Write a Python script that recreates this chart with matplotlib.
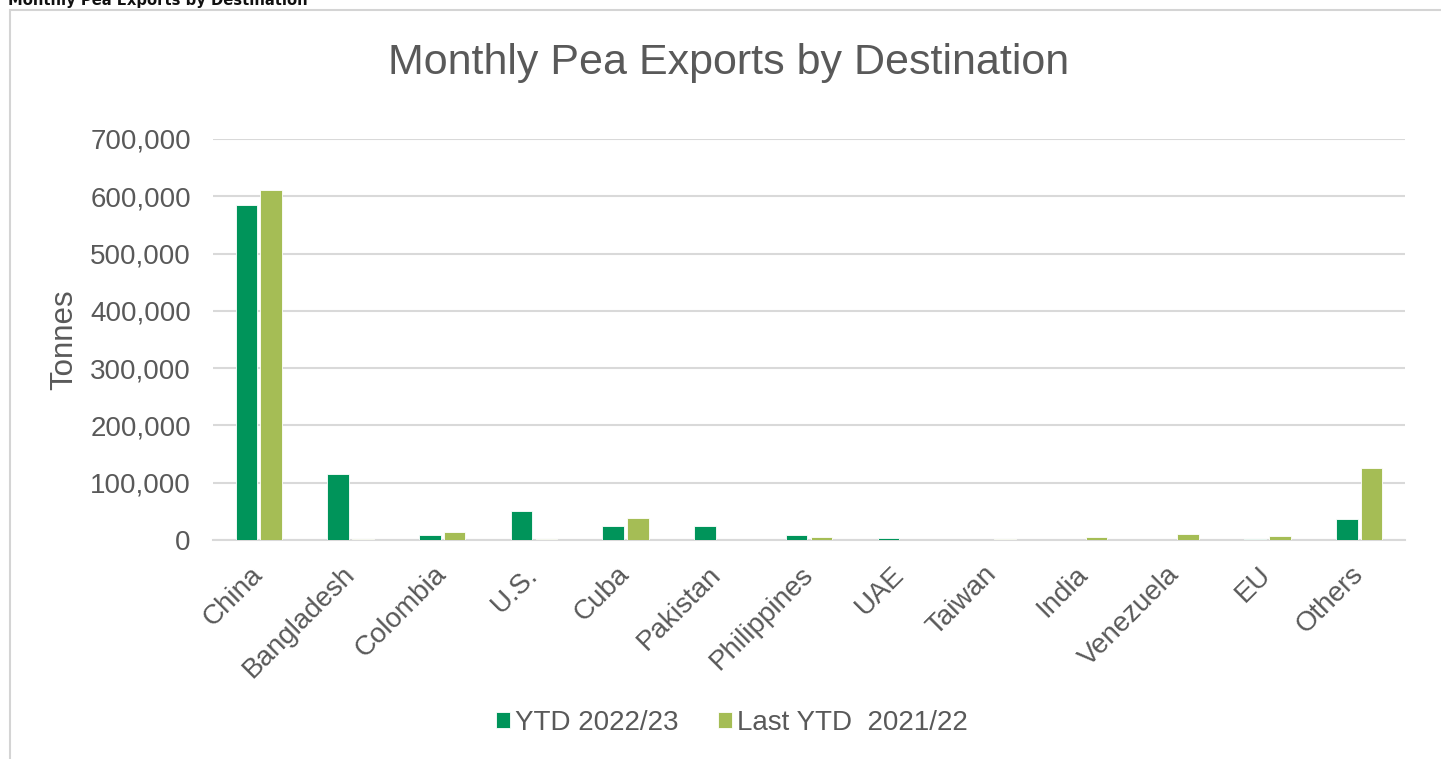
import matplotlib.pyplot as plt
import matplotlib.patches as patches
from matplotlib.ticker import FuncFormatter
import numpy as np

# Categories and tonnes
destinations = ["China", "Bangladesh", "Colombia", "U.S.", "Cuba", "Pakistan",
                "Philippines", "UAE", "Taiwan", "India", "Venezuela", "EU", "Others"]
ytd_2223 = [585000, 115000, 9000, 50000, 25000, 25000, 9000, 3000, 0, 0, 0, 2000, 37000]
last_ytd_2122 = [611000, 1000, 14000, 2000, 39000, 0, 6000, 0, 2000, 5000, 10000, 7000, 126000]

DARK = "#00945A"
LIGHT = "#A5BD55"
TEXT = "#595959"
FONT = "Liberation Sans"

fig = plt.figure(figsize=(14.41, 7.59), dpi=100)

# Outer panel border
frame = patches.Rectangle((10 / 1441, -0.05), 1.1, 1 - 10 / 759 + 0.05,
                          transform=fig.transFigure, fill=False,
                          edgecolor="#d4d4d4", linewidth=1.5)
fig.patches.append(frame)

# Page heading, clipped at the top like the source screenshot
fig.text(8 / 1441, 1 - 5 / 759, "Monthly Pea Exports by Destination",
         fontsize=11.8, fontweight="bold", fontstretch="condensed",
         color="#111111", va="baseline", ha="left", family="DejaVu Sans")

ax = fig.add_axes([213 / 1441, 1 - 540 / 759, 1192 / 1441, 401 / 759])

x = np.arange(len(destinations))
w = 0.235
ax.bar(x - 0.135, ytd_2223, w, color=DARK, edgecolor="white", linewidth=0.6,
       label="YTD 2022/23", zorder=3)
ax.bar(x + 0.135, last_ytd_2122, w, color=LIGHT, edgecolor="white", linewidth=0.6,
       label="Last YTD  2021/22", zorder=3)

ax.set_xlim(-0.5, len(destinations) - 0.5)
ax.set_ylim(0, 700000)
ax.set_yticks(range(0, 700001, 100000))
ax.yaxis.set_major_formatter(FuncFormatter(lambda v, p: f"{int(v):,}"))
ax.grid(axis="y", color="#d9d9d9", linewidth=1.5, zorder=0)
for s in ["top", "right", "left"]:
    ax.spines[s].set_visible(False)
ax.spines["bottom"].set_color("#d9d9d9")
ax.spines["bottom"].set_linewidth(1.5)
ax.tick_params(axis="both", length=0, labelsize=20, colors=TEXT)
ax.tick_params(axis="y", pad=16)
ax.tick_params(axis="x", pad=22)
ax.set_xticks(x)
ax.set_xticklabels(destinations, rotation=45, ha="right", va="center",
                   rotation_mode="anchor", family=FONT)
for lbl in ax.get_yticklabels():
    lbl.set_family(FONT)

ax.set_ylabel("Tonnes", fontsize=22.5, color=TEXT, family=FONT, labelpad=8)

fig.text(729 / 1441, 1 - 74 / 759, "Monthly Pea Exports by Destination",
         fontsize=31, color=TEXT, ha="center", va="baseline", family=FONT)

leg = fig.legend(loc="center", bbox_to_anchor=(732 / 1441, 1 - 723 / 759), ncol=2,
                 frameon=False, handlelength=0.5, handleheight=0.5,
                 handletextpad=0.2, columnspacing=1.4,
                 prop={"family": FONT, "size": 20})
for t in leg.get_texts():
    t.set_color(TEXT)

fig.savefig("out.png", dpi=100)
